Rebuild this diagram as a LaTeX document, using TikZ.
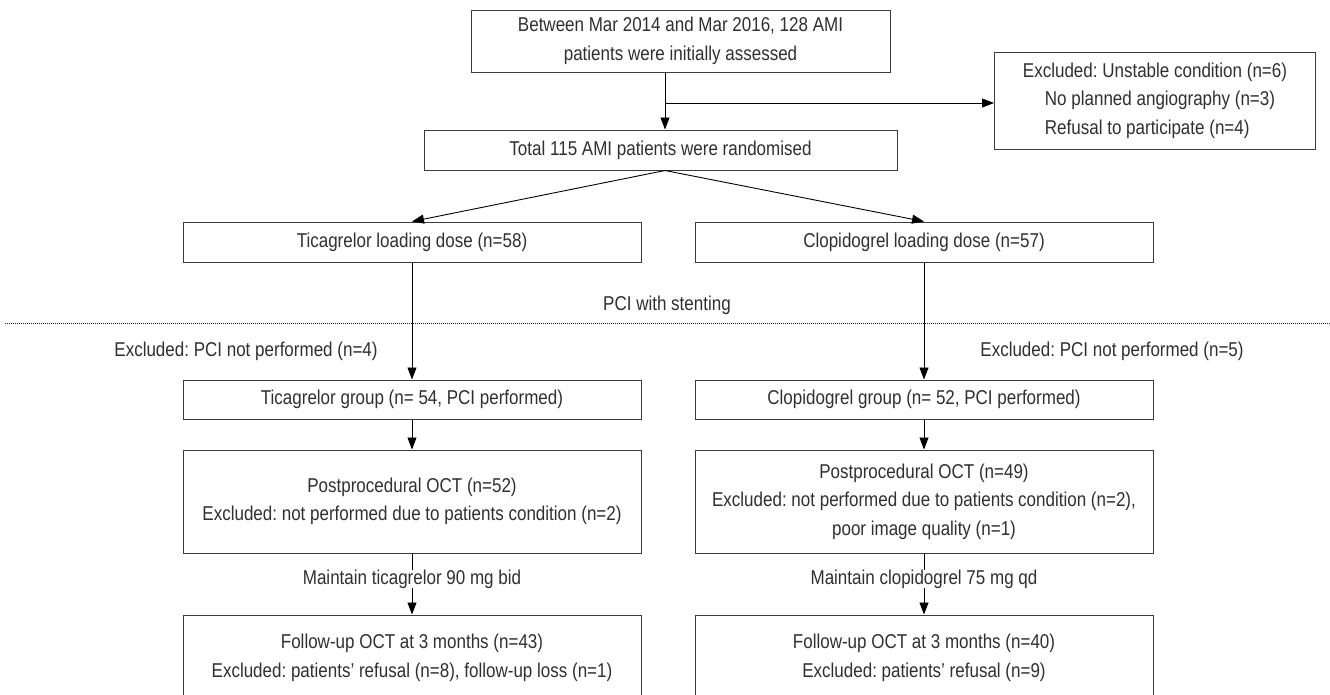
\documentclass[tikz,border=0pt]{standalone}
\usepackage{fontspec}
\setmainfont{Liberation Sans}[FakeStretch=0.85]
\usetikzlibrary{arrows.meta}
\definecolor{txt}{HTML}{303030}
\definecolor{brd}{HTML}{3C3C3C}
\tikzset{
  box/.style={draw=brd, line width=1pt, rectangle, inner sep=0pt, align=center,
    text=txt, font=\fontsize{20}{28.5}\selectfont},
  lbl/.style={inner sep=1pt, text=txt, font=\fontsize{20}{28.5}\selectfont},
  arr/.style={draw=black, line width=0.9pt, -{Triangle[length=12pt,width=9pt]}},
  dotline/.style={draw=black!85, line width=0.8pt, dash pattern=on 1pt off 1pt}
}
\frenchspacing
\begin{document}
\begin{tikzpicture}[x=1pt,y=-1pt]
\useasboundingbox (0,0) rectangle (1330,694);
\clip (0,0) rectangle (1330,694);
\fill[white] (0,0) rectangle (1330,694);

% boxes
\node[box, minimum width=419pt, minimum height=62pt] (top) at (680.5,41)
  {Between Mar 2014 and Mar 2016, 128 AMI\\patients were initially assessed};
\node[box, minimum width=321pt, minimum height=97pt, align=left] (excl) at (1155,100.5)
  {Excluded: Unstable condition (n=6)\\\hspace*{22pt}No planned angiography (n=3)\\\hspace*{22pt}Refusal to participate (n=4)};
\node[box, minimum width=473pt, minimum height=40pt] (rand) at (660.5,150)
  {Total 115 AMI patients were randomised};
\node[box, minimum width=458pt, minimum height=40pt] (tld) at (412,242)
  {Ticagrelor loading dose (n=58)};
\node[box, minimum width=458pt, minimum height=40pt] (cld) at (924,242)
  {Clopidogrel loading dose (n=57)};
\node[box, minimum width=458pt, minimum height=39pt] (tg) at (412,399.5)
  {Ticagrelor group (n= 54, PCI performed)};
\node[box, minimum width=458pt, minimum height=39pt] (cg) at (924,399.5)
  {Clopidogrel group (n= 52, PCI performed)};
\node[box, minimum width=458pt, minimum height=103pt] (tp) at (412,501.5)
  {Postprocedural OCT (n=52)\\Excluded: not performed due to patients condition (n=2)};
\node[box, minimum width=458pt, minimum height=103pt] (cp) at (924,501.5)
  {Postprocedural OCT (n=49)\\Excluded: not performed due to patients condition (n=2),\\poor image quality (n=1)};
\node[box, minimum width=458pt, minimum height=86pt] (tf) at (412,658)
  {Follow-up OCT at 3 months (n=43)\\Excluded: patients’ refusal (n=8), follow-up loss (n=1)};
\node[box, minimum width=458pt, minimum height=86pt] (cf) at (924,658)
  {Follow-up OCT at 3 months (n=40)\\Excluded: patients’ refusal (n=9)};

% free labels
\node[lbl] (pci) at (667,305) {PCI with stenting};
\node[lbl] (exl) at (246,351) {Excluded: PCI not performed (n=4)};
\node[lbl] (exr) at (1112,351) {Excluded: PCI not performed (n=5)};

% dotted separator
\coordinate (dl) at (5,323);
\coordinate (dr) at (1330,323);
\draw[dotline] (dl) -- (dr);

% connectors
\coordinate (sp) at (665,170);
\coordinate (hj) at (665,103);
\draw[arr] (top.south -| sp) -- (rand.north -| sp);
\draw[arr] (hj) -- (hj -| excl.west);
\draw[arr] (rand.south -| sp) -- (tld.north);
\draw[arr] (rand.south -| sp) -- (cld.north);
\draw[arr] (tld.south) -- (tg.north);
\draw[arr] (cld.south) -- (cg.north);
\draw[arr] (tg.south) -- (tp.north);
\draw[arr] (cg.south) -- (cp.north);
\draw[arr] (tp.south) -- node[lbl, fill=white, inner ysep=0pt, pos=0.42] (mt) {Maintain ticagrelor 90 mg bid} (tf.north);
\draw[arr] (cp.south) -- node[lbl, fill=white, inner ysep=0pt, pos=0.42] (mc) {Maintain clopidogrel 75 mg qd} (cf.north);
\end{tikzpicture}
\end{document}
